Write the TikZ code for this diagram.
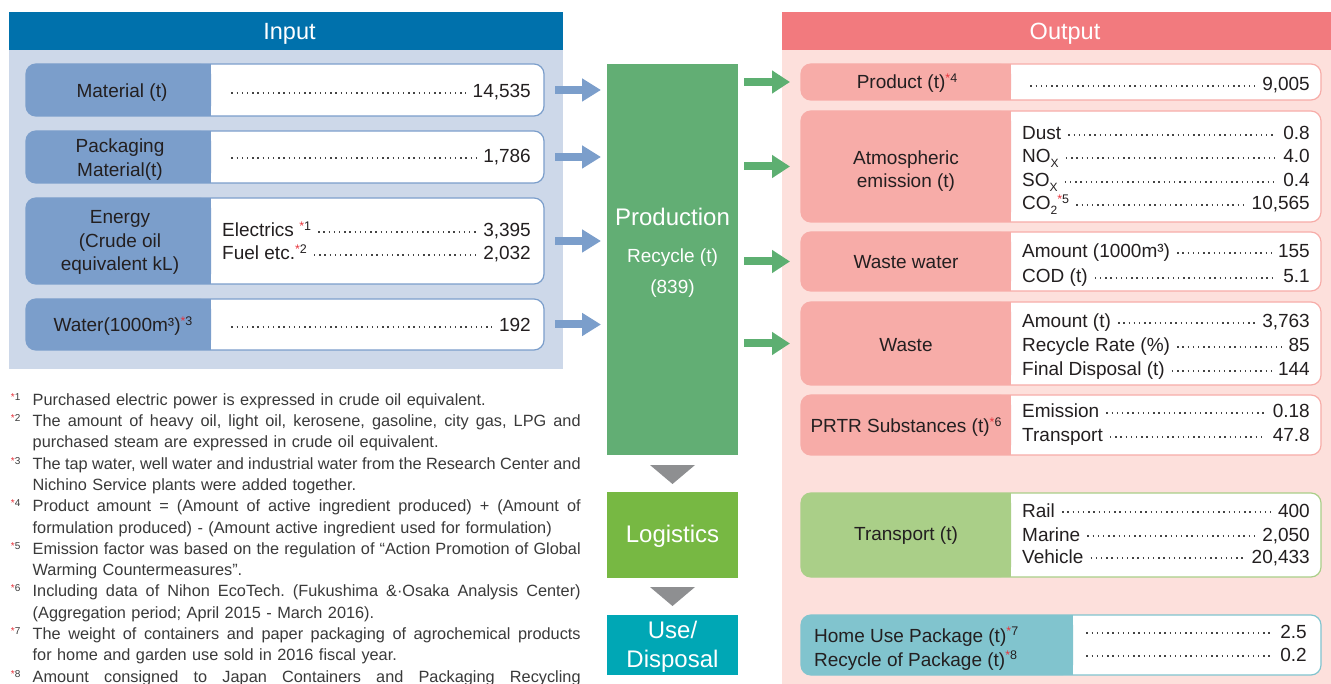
\documentclass[tikz,border=0pt]{standalone}
\usepackage{fontspec}
\setmainfont{Liberation Sans}
\usetikzlibrary{arrows.meta,calc}
\setlength\parindent{0pt}
\frenchspacing
\definecolor{inhead}{HTML}{0071AC}
\definecolor{inpanel}{HTML}{CDD8E9}
\definecolor{inlab}{HTML}{7B9ECB}
\definecolor{outhead}{HTML}{F27A7E}
\definecolor{outpanel}{HTML}{FDE0DC}
\definecolor{outlab}{HTML}{F7ACA8}
\definecolor{translab}{HTML}{AACF88}
\definecolor{homelab}{HTML}{81C4CE}
\definecolor{prodg}{HTML}{62AE74}
\definecolor{garrow}{HTML}{5DAF71}
\definecolor{logg}{HTML}{77B843}
\definecolor{useg}{HTML}{00A7B5}
\definecolor{trig}{HTML}{8E8F91}
\definecolor{txtc}{HTML}{231F20}
\definecolor{dotc}{HTML}{444444}
\definecolor{fnc}{HTML}{3A3A3A}
\definecolor{astred}{HTML}{E8343C}
\newcommand\mk[1]{\raisebox{6.5pt}{\fontsize{12.5}{12.5}\selectfont\textcolor{astred}{*}#1}}
\newcommand\subs[1]{\raisebox{-4.5pt}{\fontsize{12}{12}\selectfont #1}}
\newcommand\fnm[1]{\llap{\makebox[21.8pt][l]{\raisebox{5pt}{\fontsize{10}{10}\selectfont\textcolor{astred}{*}#1}}}}
\newcommand\jl[1]{\makebox[548pt][s]{\spaceskip=0pt\xspaceskip=0pt\frenchspacing #1}}
\tikzset{
  box/.style={rectangle, inner sep=0pt, outer sep=0pt},
  inrow/.style={box, rounded corners=10pt, fill=white, draw=inlab, line width=1.2pt},
  outrow/.style={box, rounded corners=10pt, fill=white, draw=outlab, line width=1.2pt},
  txt/.style={inner sep=0pt, text=txtc, font=\fontsize{19}{23.5}\selectfont},
  leader/.style={draw=dotc, line width=1.4pt, dash pattern=on 1.4pt off 3.8pt},
  bluearrow/.style={draw=inlab, line width=8pt, -{Triangle[length=19pt,width=22pt]}},
  greenarrow/.style={draw=garrow, line width=8pt, -{Triangle[length=18pt,width=22pt]}},
  stage/.style={box},
  stxt/.style={inner sep=0pt, text=white, font=\fontsize{24}{28}\selectfont},
  stxts/.style={inner sep=0pt, text=white, font=\fontsize{19}{23}\selectfont},
  head/.style={inner sep=0pt, text=white, font=\fontsize{23.5}{28}\selectfont},
}
\newcommand\rowlabel[3]{%
  \fill[#3, rounded corners=10pt] (#1.north west) rectangle ([xshift=#2]#1.south west);
  \fill[#3] ([xshift=#2-12]#1.north west) rectangle ([xshift=#2]#1.south west);}
\newcommand\lead[6]{%
  \node[txt, anchor=base west] (#1l) at (#2,#4) {#5};
  \node[txt, anchor=base east] (#1v) at (#3,#4) {#6};
  \draw[leader] ([xshift=7pt,yshift=5pt]#1l.base east) -- ([xshift=-7pt,yshift=5pt]#1v.base west);}
\begin{document}
\begin{tikzpicture}[x=1pt,y=-1pt]
\useasboundingbox (0,0) rectangle (1331,684);
\fill[white] (0,0) rectangle (1331,684);
% panels and headers
\node[box, fill=inpanel, minimum width=554pt, minimum height=319pt] (inP) at (286,209.5) {};
\node[box, fill=inhead, minimum width=554pt, minimum height=38pt] (inH) at (286,31) {};
\node[head, anchor=base] (inHt) at (289.5,40) {Input};
\node[box, fill=outpanel, minimum width=549pt, minimum height=634pt] (outP) at (1056.5,367) {};
\node[box, fill=outhead, minimum width=549pt, minimum height=38pt] (outH) at (1056.5,31) {};
\node[head, anchor=base] (outHt) at (1065,40) {Output};
% input rows
\node[inrow, minimum width=518pt, minimum height=52pt] (mat) at (285,90) {};
\rowlabel{mat}{185}{inlab}
\node[txt, anchor=base] (matN) at (122,98) {Material (t)};
\lead{mat}{223}{531}{98}{}{14,535}
\node[inrow, minimum width=518pt, minimum height=52pt] (pack) at (285,157) {};
\rowlabel{pack}{185}{inlab}
\node[txt, anchor=base] (packNa) at (120,153) {Packaging};
\node[txt, anchor=base] (packNb) at (120,177) {Material(t)};
\lead{pack}{223}{531}{163}{}{1,786}
\node[inrow, minimum width=518pt, minimum height=86pt] (ene) at (285,241) {};
\rowlabel{ene}{185}{inlab}
\node[txt, anchor=base] (eneNa) at (120,224) {Energy};
\node[txt, anchor=base] (eneNb) at (120,248) {(Crude oil};
\node[txt, anchor=base] (eneNc) at (120,271) {equivalent kL)};
\lead{enea}{222}{531}{237}{Electrics \mk{1}}{3,395}
\lead{eneb}{222}{531}{260}{Fuel etc.\mk{2}}{2,032}
\node[inrow, minimum width=518pt, minimum height=51pt] (wat) at (285,324.5) {};
\rowlabel{wat}{185}{inlab}
\node[txt, anchor=base] (watN) at (123,332) {Water(1000m³)\mk{3}};
\lead{wat}{223}{531}{332}{}{192}
% production column
\node[stage, fill=prodg, minimum width=131pt, minimum height=391pt] (prod) at (672.5,259.5) {};
\node[stxt, anchor=base] (prodA) at (672.5,226) {Production};
\node[stxts, anchor=base] (prodB) at (672.5,263) {Recycle (t)};
\node[stxts, anchor=base] (prodC) at (672.5,294) {(839)};
\node[stage, fill=logg, minimum width=131pt, minimum height=86pt] (logi) at (672.5,535) {};
\node[stxt, anchor=base] (logiT) at (672.5,542) {Logistics};
\node[stage, fill=useg, minimum width=131pt, minimum height=60pt] (usen) at (672.5,645) {};
\node[stxt, anchor=base] (useA) at (672.5,638) {Use/};
\node[stxt, anchor=base] (useB) at (672.5,667) {Disposal};
\fill[trig] ($(prod.south)+(-22.5,10)$) -- ++(45,0) -- ++(-22.5,19) -- cycle;
\fill[trig] ($(logi.south)+(-22.5,9)$) -- ++(45,0) -- ++(-22.5,19) -- cycle;
% output rows
\node[outrow, minimum width=520pt, minimum height=36pt] (prodr) at (1061,82) {};
\rowlabel{prodr}{210}{outlab}
\node[txt, anchor=base] (prodrN) at (907,89) {Product (t)\mk{4}};
\lead{prodr}{1022}{1310}{91}{}{9,005}
\node[outrow, minimum width=520pt, minimum height=111pt] (atm) at (1061,166.5) {};
\rowlabel{atm}{210}{outlab}
\node[txt, anchor=base] (atmNa) at (906,165) {Atmospheric};
\node[txt, anchor=base] (atmNb) at (906,188) {emission (t)};
\lead{atma}{1022}{1310}{140}{Dust}{0.8}
\lead{atmb}{1022}{1310}{163}{NO\subs{X}}{4.0}
\lead{atmc}{1022}{1310}{187}{SO\subs{X}}{0.4}
\lead{atmd}{1022}{1310}{210}{CO\subs{2}\mk{5}}{10,565}
\node[outrow, minimum width=520pt, minimum height=59pt] (ww) at (1061,261.5) {};
\rowlabel{ww}{210}{outlab}
\node[txt, anchor=base] (wwN) at (906,269) {Waste water};
\lead{wwa}{1022}{1310}{258}{Amount (1000m³)}{155}
\lead{wwb}{1022}{1310}{283}{COD (t)}{5.1}
\node[outrow, minimum width=520pt, minimum height=83pt] (waste) at (1061,343.5) {};
\rowlabel{waste}{210}{outlab}
\node[txt, anchor=base] (wasteN) at (906,352) {Waste};
\lead{wastea}{1022}{1310}{328}{Amount (t)}{3,763}
\lead{wasteb}{1022}{1310}{352}{Recycle Rate (\%)}{85}
\lead{wastec}{1022}{1310}{376}{Final Disposal (t)}{144}
\node[outrow, minimum width=520pt, minimum height=60pt] (prtr) at (1061,425) {};
\rowlabel{prtr}{210}{outlab}
\node[txt, anchor=base] (prtrN) at (906,433) {PRTR Substances (t)\mk{6}};
\lead{prtra}{1022}{1310}{418}{Emission}{0.18}
\lead{prtrb}{1022}{1310}{442}{Transport}{47.8}
\node[outrow, draw=translab, minimum width=520pt, minimum height=84pt] (trans) at (1061,535) {};
\rowlabel{trans}{210}{translab}
\node[txt, anchor=base] (transN) at (906,540) {Transport (t)};
\lead{transa}{1022}{1310}{517}{Rail}{400}
\lead{transb}{1022}{1310}{541}{Marine}{2,050}
\lead{transc}{1022}{1310}{563}{Vehicle}{20,433}
\node[outrow, draw=homelab, minimum width=520pt, minimum height=60pt] (home) at (1061,645) {};
\rowlabel{home}{272}{homelab}
\node[txt, anchor=base west] (homeNa) at (814,642) {Home Use Package (t)\mk{7}};
\node[txt, anchor=base west] (homeNb) at (814,666) {Recycle of Package (t)\mk{8}};
\lead{homea}{1078}{1307}{638}{}{2.5}
\lead{homeb}{1078}{1307}{661}{}{0.2}
% arrows
\foreach \r in {mat,pack,ene,wat}
  \draw[bluearrow] ($(\r.east)+(11,0)$) -- ($(prod.west |- \r.east)+(-6,0)$);
\foreach \r in {prodr,atm,ww,waste}
  \draw[greenarrow] ($(prod.east |- \r.west)+(6,0)$) -- ($(\r.west)+(-11,0)$);
% footnotes
\node[inner sep=0pt, anchor=north west, text width=548pt, align=left, text=fnc,
      font=\fontsize{16.3}{21.3}\selectfont\frenchspacing] (notes) at (32.5,390.1) {%
\noindent\strut\fnm{1}Purchased electric power is expressed in crude oil equivalent.\\
\noindent\fnm{2}\jl{The amount of heavy oil, light oil, kerosene, gasoline, city gas, LPG and}\\
purchased steam are expressed in crude oil equivalent.\\
\noindent\fnm{3}\jl{The tap water, well water and industrial water from the Research Center and}\\
Nichino Service plants were added together.\\
\noindent\fnm{4}\jl{Product amount = (Amount of active ingredient produced) + (Amount of}\\
formulation produced) - (Amount active ingredient used for formulation)\\
\noindent\fnm{5}\jl{Emission factor was based on the regulation of “Action Promotion of Global}\\
Warming Countermeasures”.\\
\noindent\fnm{6}\jl{Including data of Nihon EcoTech. (Fukushima \&·Osaka Analysis Center)}\\
(Aggregation period; April 2015 - March 2016).\\
\noindent\fnm{7}\jl{The weight of containers and paper packaging of agrochemical products}\\
for home and garden use sold in 2016 fiscal year.\\
\noindent\fnm{8}\jl{Amount consigned to Japan Containers and Packaging Recycling}};
\end{tikzpicture}
\end{document}
